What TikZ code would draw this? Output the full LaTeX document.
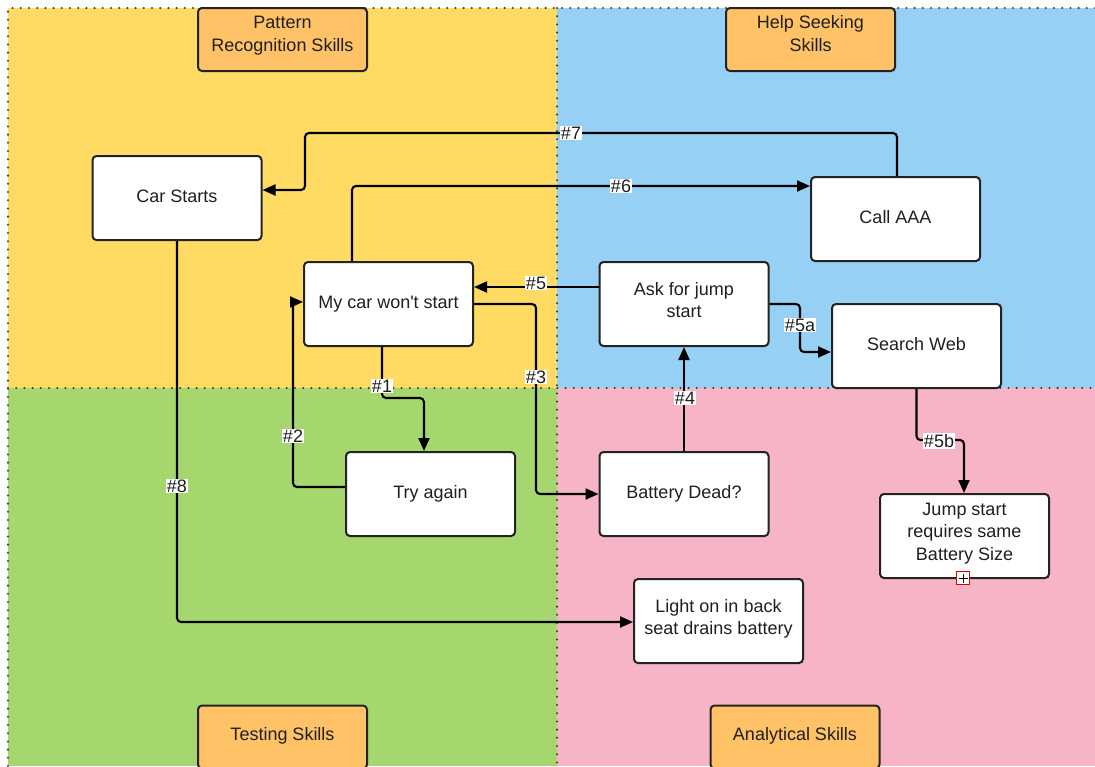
\documentclass[tikz,border=0pt]{standalone}
\usepackage{fontspec}
\setmainfont{Liberation Sans}[Ligatures=TeXOff]
\usetikzlibrary{arrows.meta}
\definecolor{zyellow}{RGB}{255,219,100}
\definecolor{zblue}{RGB}{150,209,245}
\definecolor{zgreen}{RGB}{165,215,110}
\definecolor{zpink}{RGB}{247,180,198}
\definecolor{zorange}{RGB}{255,194,102}
\definecolor{zedge}{RGB}{35,35,35}
\definecolor{zdot}{RGB}{60,60,60}
% raise a centred block of lines by a given amount, keeping its size
\newcommand\liftup[2]{\raisebox{#1}[\height][\depth]{\begin{tabular}{@{}c@{}}#2\end{tabular}}}
\begin{document}
\begin{tikzpicture}[x=1pt,y=-1pt,
  every node/.style={font=\fontsize{18}{22.5}\selectfont, text=black!88},
  stepbox/.style={draw=zedge, line width=2pt, fill=white, rounded corners=4pt,
    minimum width=169pt, minimum height=84pt, align=center, inner sep=2pt},
  skillbox/.style={draw=zedge, line width=2pt, fill=zorange, rounded corners=4pt,
    minimum width=169pt, minimum height=63pt, align=center, inner sep=2pt},
  conn/.style={draw=black, line width=2.1pt, rounded corners=4pt,
    -{Triangle[length=13pt,width=11pt]}},
  lbl/.style={fill=white, inner sep=1pt},
  divider/.style={draw=zdot, line width=2.3pt, line cap=round,
    dash pattern=on 0pt off 8.2pt}]
\useasboundingbox (0,0) rectangle (1095,766);
\clip (0,0) rectangle (1095,766);
% quadrant backgrounds
\fill[zyellow] (8,8) rectangle (557,388);
\fill[zblue] (557,8) rectangle (1095,388);
\fill[zgreen] (8,388) rectangle (557,766);
\fill[zpink] (557,388) rectangle (1095,766);
% dotted frame and dividers
\draw[divider] (8,766) -- (8,8) -- (1095,8);
\draw[divider] (557,8) -- (557,766);
\draw[divider] (8,388) -- (1095,388);

% skill headings
\node[skillbox] (pr) at (282.5,39.5) {\liftup{4pt}{Pattern\\Recognition Skills}};
\node[skillbox] (hs) at (810.5,39.5) {\liftup{4pt}{Help Seeking\\Skills}};
\node[skillbox] (ts) at (282.5,737) {\liftup{1pt}{Testing Skills}};
\node[skillbox] (as) at (795,737) {\liftup{1pt}{Analytical Skills}};

% steps
\node[stepbox] (cs) at (177,198) {\liftup{0pt}{Car Starts}};
\node[stepbox] (aaa) at (895.5,219) {\liftup{0pt}{Call AAA}};
\node[stepbox] (mc) at (388.5,304) {My car won't start};
\node[stepbox] (aj) at (684,304) {\liftup{2pt}{Ask for jump\\start}};
\node[stepbox] (sw) at (916.5,346) {\liftup{0pt}{Search Web}};
\node[stepbox] (ta) at (430.5,494) {Try again};
\node[stepbox] (bd) at (684,494) {Battery Dead?};
\node[stepbox] (js) at (964.5,536) {\liftup{3pt}{Jump start\\requires same\\Battery Size}};
\node[stepbox] (lo) at (718.5,621) {\liftup{2pt}{Light on in back\\seat drains battery}};

% bend points
\coordinate (k1) at (424,398);
\coordinate (k2) at (293,302);
\coordinate (k3) at (536,400);
\coordinate (k5a) at (800,330);
\coordinate (k5b) at (964,440);
\coordinate (k7) at (305,133);

% connectors
\draw[conn] ([xshift=-6.5pt]mc.south) |- (k1) -- (k1 |- ta.north);
\draw[conn] ([yshift=7pt]ta.west) -| (k2) -- (k2 -| mc.west);
\draw[conn] (mc.east) -| (k3) |- (bd.west);
\draw[conn] (bd.north) -- (aj.south);
\draw[conn] ([yshift=17pt]aj.west) -- ([yshift=17pt]mc.east);
\draw[conn] (aj.east) -| (k5a) |- ([yshift=-6pt]sw.west);
\draw[conn] (sw.south) |- (k5b) -- (k5b |- js.north);
\draw[conn] ([xshift=-36.5pt]mc.north) |- ([yshift=33pt]aaa.west);
\draw[conn] ([xshift=1.5pt]aaa.north) |- (k7) |- ([yshift=8pt]cs.east);
\draw[conn] (cs.south) |- ([yshift=-1pt]lo.west);

% connector labels
\node[lbl] (l7) at (571,133) {\#7};
\node[lbl] (l6) at (621,186) {\#6};
\node[lbl] (l5) at (536,283) {\#5};
\node[lbl] (l3) at (536,377) {\#3};
\node[lbl] (l1) at (382,386) {\#1};
\node[lbl] (l2) at (293,436) {\#2};
\node[lbl] (l4) at (685,398) {\#4};
\node[lbl] (l5a) at (800,325) {\#5a};
\node[lbl] (l5b) at (939,441) {\#5b};
\node[lbl] (l8) at (177,486) {\#8};

% expand marker under the last step
\node[draw=red!85!black, line width=1pt, fill=white, minimum size=13pt,
  inner sep=0pt] (plus) at (963,578) {};
\draw[black, line width=1pt] ([xshift=-4.5pt]plus.center) -- ([xshift=4.5pt]plus.center)
  ([yshift=-4.5pt]plus.center) -- ([yshift=4.5pt]plus.center);
\end{tikzpicture}
\end{document}
